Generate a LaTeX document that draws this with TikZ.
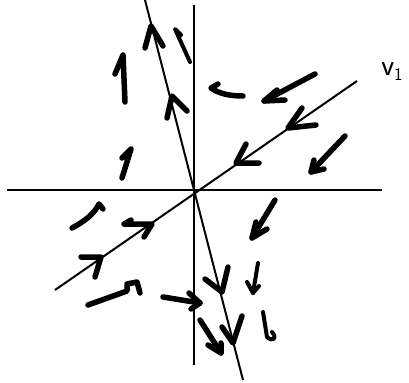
\documentclass[tikz,border=0pt]{standalone}
\begin{document}
\begin{tikzpicture}[x=1bp,y=-1bp,
  axis/.style={line width=2bp},
  ink/.style={line width=5.5bp,line cap=round,line join=round},
  thin ink/.style={line width=4bp,line cap=round,line join=round}]
\useasboundingbox (0,0) rectangle (409,383);
% axes
\coordinate (xl) at (7,190); \coordinate (xr) at (382,190);
\coordinate (yt) at (194,5); \coordinate (yb) at (194,365);
\draw[axis] (xl) -- (xr);
\draw[axis] (yt) -- (yb);
% eigen-lines
\coordinate (s1) at (145,0); \coordinate (s2) at (243,380);
\coordinate (v1a) at (357,81); \coordinate (v1b) at (55,290);
\draw[axis] (s1) -- (s2);
\draw[axis] (v1a) -- (v1b);
\node[font=\sffamily\fontsize{30}{30}\selectfont,inner sep=0pt] (lab) at (392,72) {v\raisebox{-5bp}{\fontsize{18}{18}\selectfont 1}};
% heads on the steep line
\draw[ink] (145,48) -- (151,26) -- (163,46);
\draw[ink] (167,118) -- (172,96) -- (187,111);
\draw[ink] (205,279) -- (222,292) -- (228,267);
\draw[ink] (222,327) -- (233,343) -- (242,316);
% heads on v1 line
\draw[ink] (302,108) -- (288,128) -- (316,125);
\draw[ink] (246,144) -- (236,163) -- (259,163);
\draw[ink] (81,257) -- (101,257) -- (95,277);
% upper left field arrows
\draw[thin ink] (190,62) -- (175,29) -- (181,35);
\draw[ink] (125,102) -- (123,55) -- (115,74);
\draw[ink] (122,178) -- (131,149) -- (122,158);
% upper right field arrows
\draw[ink] (243,96) .. controls (228,96) and (218,93) .. (211,88) -- (218,84);
\draw[ink] (315,74) -- (264,101);
\draw[ink] (277,90) -- (264,101) -- (285,100);
\draw[ink] (345,136) -- (311,172);
\draw[ink] (314,160) -- (311,172) -- (324,169);
% lower left field arrows
\draw[ink] (72,228) .. controls (85,221) and (94,214) .. (99,204) -- (103,209);
\draw[ink] (131,220) -- (124,224) -- (152,224) -- (144,237);
\draw[ink] (88,305) -- (127,291) -- (127,284) -- (137,282) -- (140,293);
\draw[ink] (163,297) -- (200,303);
\draw[ink] (189,293) -- (200,303) -- (191,309);
% lower right field arrows
\draw[ink] (275,200) -- (252,238);
\draw[ink] (256,222) -- (252,238) -- (267,229);
\draw[thin ink] (258,263) -- (253,293);
\draw[thin ink] (247,282) -- (253,293) -- (259,286);
\draw[ink] (200,320) -- (221,353);
\draw[ink] (208,345) -- (221,353) -- (221,343);
\draw[thin ink] (263,312) -- (267,337) .. controls (272,342) and (278,339) .. (272,332);
\end{tikzpicture}
\end{document}
